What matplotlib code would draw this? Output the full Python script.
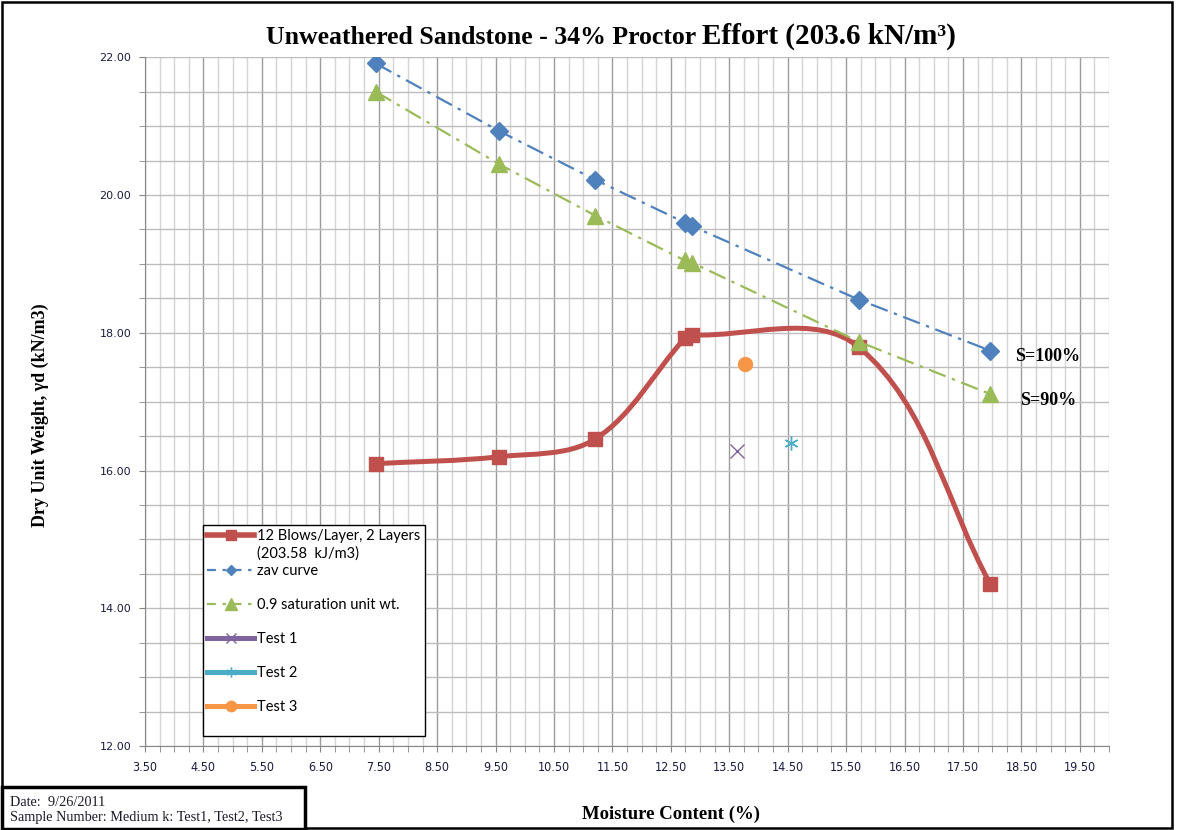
import matplotlib.pyplot as plt
import matplotlib.patches as mpatches
from matplotlib.path import Path
from matplotlib.lines import Line2D
import numpy as np

# moisture content (%) and dry unit weight (kN/m3)
moisture = [7.45, 9.56, 11.21, 12.74, 12.86, 15.72, 17.97]
blows_12 = [16.10, 16.20, 16.46, 17.92, 17.97, 17.79, 14.35]
zav = [21.91, 20.93, 20.22, 19.60, 19.55, 18.48, 17.74]
sat_90 = [21.50, 20.45, 19.70, 19.05, 19.02, 17.87, 17.11]

# single tests
test1_x, test1_y = [13.64], [16.29]
test2_x, test2_y = [14.55], [16.40]
test3_x, test3_y = [13.77], [17.55]

RED = '#C0504D'
BLUE = '#4F81BD'
GREEN = '#9BBB59'
PURPLE = '#8064A2'
AQUA = '#4BACC6'
ORANGE = '#F79646'
SERIF = 'Liberation Serif'
W, H = 1178, 830


def smooth_path(xs, ys, sx, sy, k=1/3.):
    # bezier curve through the points, tangents taken from the neighbours
    pts = np.column_stack([np.asarray(xs) * sx, np.asarray(ys) * sy])
    n = len(pts)
    tang = []
    for i in range(n):
        d = pts[min(i + 1, n - 1)] - pts[max(i - 1, 0)]
        tang.append(d / np.hypot(*d))
    verts = [pts[0]]
    codes = [Path.MOVETO]
    for i in range(n - 1):
        L = np.hypot(*(pts[i + 1] - pts[i]))
        verts += [pts[i] + tang[i] * L * k, pts[i + 1] - tang[i + 1] * L * k, pts[i + 1]]
        codes += [Path.CURVE4] * 3
    verts = np.array(verts) / [sx, sy]
    return Path(verts, codes)


fig = plt.figure(figsize=(W / 100, H / 100), dpi=100)
ax = fig.add_axes([145 / W, 1 - 746 / H, 964 / W, (746 - 57.3) / H])

ax.set_xlim(3.5, 20.0)
ax.set_ylim(12, 22)
ax.set_xticks(np.arange(3.5, 20.01, 1.0))
ax.set_xticks(np.arange(3.5, 20.01, 0.25), minor=True)
ax.set_yticks(np.arange(12, 22.01, 2))
ax.set_yticks(np.arange(12, 22.01, 0.5), minor=True)
ax.set_yticklabels(['%.2f' % v for v in np.arange(12, 22.01, 2)])
ax.set_xticklabels(['%.2f' % v for v in np.arange(3.5, 20.01, 1.0)])
ax.set_axisbelow(True)
ax.grid(which='minor', axis='x', color='#d4d4d4', lw=1.0)
ax.grid(which='major', axis='x', color='#9c9c9c', lw=1.0)
ax.grid(which='both', axis='y', color='#bdbdbd', lw=1.0)
for s in ['top', 'right']:
    ax.spines[s].set_visible(False)
for s in ['left', 'bottom']:
    ax.spines[s].set_color('#868686')
ax.tick_params(which='both', direction='out', length=4, color='#868686')
ax.tick_params(axis='y', labelsize=8, labelcolor='#1a1a40', pad=6)
ax.tick_params(axis='x', labelsize=9, labelcolor='#1a1a40', pad=7)
for t in ax.get_xticklabels():
    t.set_fontstretch('condensed')

# smoothed compaction curve
sx, sy = 964 / 16.5, 688.7 / 10.0
curve = mpatches.PathPatch(smooth_path(moisture, blows_12, sx, sy), facecolor='none',
                           edgecolor=RED, lw=3.6, capstyle='round', joinstyle='round', zorder=3)
ax.add_patch(curve)
ax.plot(moisture, blows_12, 's', color=RED, ms=10.5, zorder=3)

ax.plot(moisture, zav, color=BLUE, lw=1.6, ls=(0, (8, 3, 1.5, 3)), marker='D', ms=9, zorder=4)
ax.plot(moisture, sat_90, color=GREEN, lw=1.6, ls=(0, (8, 3, 1.5, 3)), marker='^', ms=12, zorder=5)
ax.plot(test1_x, test1_y, 'x', color=PURPLE, ms=10, mew=1.0, zorder=6)
ax.plot(test2_x, test2_y, marker=(6, 2, 0), ls='none', color=AQUA, ms=10, mew=1.0, zorder=6)
ax.plot(test3_x, test3_y, 'o', color=ORANGE, ms=10, zorder=6)

ax.text(18.39, 17.66, 'S=100%', fontfamily=SERIF, fontweight='bold', fontsize=13, va='center')
ax.text(18.48, 17.01, 'S=90%', fontfamily=SERIF, fontweight='bold', fontsize=13, va='center')

# legend rows, blank rows keep the spacing between entries
blank = Line2D([], [], ls='none')
handles = [
    Line2D([], [], color=RED, lw=4, marker='s', ms=7.5),
    blank,
    Line2D([], [], color=BLUE, lw=1.6, ls=(0, (4, 3, 1.5, 3)), marker='D', ms=5.5),
    blank,
    Line2D([], [], color=GREEN, lw=1.6, ls=(0, (4, 3, 1.5, 3)), marker='^', ms=8),
    blank,
    Line2D([], [], color=PURPLE, lw=3.6, marker='x', ms=7, mew=1),
    blank,
    Line2D([], [], color=AQUA, lw=3.6, marker=(6, 2, 0), ms=7, mew=1),
    blank,
    Line2D([], [], color=ORANGE, lw=3.6, marker='o', ms=7.5),
    blank,
]
labels = ['12 Blows/Layer, 2 Layers', '(203.58  kJ/m3)', 'zav curve', ' ', '0.9 saturation unit wt.', ' ',
          'Test 1', ' ', 'Test 2', ' ', 'Test 3', ' ']
leg = ax.legend(handles, labels, loc='upper left', bbox_to_anchor=((203 - 145) / 964, (746 - 525) / 688.7),
                frameon=True, fancybox=False, edgecolor='black', framealpha=1,
                prop={'family': 'Lato', 'size': 10.5}, handlelength=3.2, handletextpad=0.2,
                labelspacing=0.21, borderpad=0.3, borderaxespad=0)
leg.get_frame().set_linewidth(1.0)

# title in two sizes
ty = 1 - 43.5 / H
t1 = fig.text(266 / W, ty, 'Unweathered Sandstone - 34% Proctor ', ha='left', va='baseline',
              fontfamily=SERIF, fontweight='bold', fontsize=18.5)
fig.canvas.draw()
bb = t1.get_window_extent()
fig.text(bb.x1 / W, ty, 'Effort (203.6 kN/m\u00b3)', ha='left', va='baseline',
         fontfamily=SERIF, fontweight='bold', fontsize=21)

fig.text(0.034, 0.5, 'Dry Unit Weight, \u03b3d (kN/m3)', rotation=90, ha='center', va='center',
         fontfamily=SERIF, fontweight='bold', fontsize=13)
fig.text(0.570, 0.019, 'Moisture Content (%)', ha='center', va='center',
         fontfamily=SERIF, fontweight='bold', fontsize=13.5)

# chart frame and the sample info box
fig.patches.append(mpatches.Rectangle((2 / W, 2 / H), 1170 / W, 826 / H, transform=fig.transFigure,
                                      fill=False, edgecolor='black', lw=1.8))
fig.patches.append(mpatches.Rectangle((2 / W, 1 / H), 303 / W, 42 / H, transform=fig.transFigure,
                                      facecolor='white', edgecolor='black', lw=2.5))
fig.text(10 / W, 1 - 802 / H, 'Date:  9/26/2011', fontfamily=SERIF, fontsize=10.3, va='center', color='#1a1a2a')
fig.text(10 / W, 1 - 817 / H, 'Sample Number: Medium k: Test1, Test2, Test3', fontfamily=SERIF,
         fontsize=10.3, va='center', color='#1a1a2a')

fig.savefig('out.png', dpi=100, facecolor='white')
